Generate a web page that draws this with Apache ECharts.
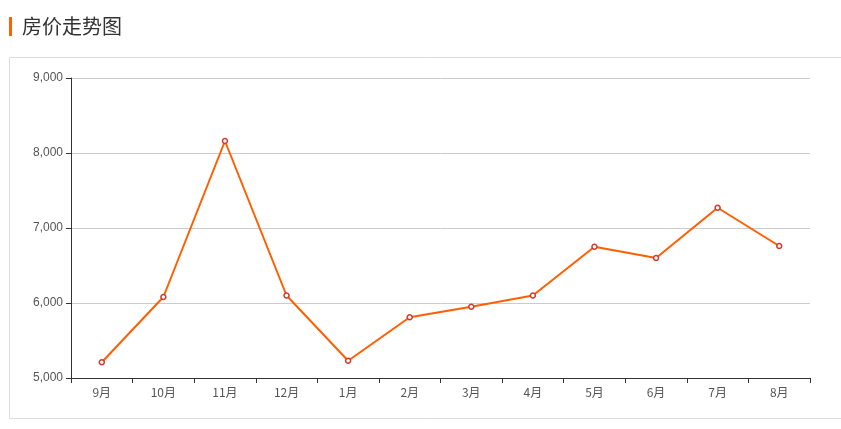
<!DOCTYPE html>
<html><head><meta charset="utf-8">
<script src="https://cdn.jsdelivr.net/npm/echarts@6/dist/echarts.min.js"></script>
<style>html,body{margin:0;padding:0;background:#fff}#c{width:841px;height:429px}</style>
</head><body><div id="c"></div>
<script>
const titleText = '房价走势图';
const months = ['9月','10月','11月','12月','1月','2月','3月','4月','5月','6月','7月','8月'];
const prices = [5210, 6080, 8160, 6100, 5230, 5810, 5950, 6100, 6750, 6600, 7270, 6760];
const yTicks = { min: 5000, max: 9000, interval: 1000 };

const chart = echarts.init(document.getElementById('c'));
chart.setOption({
  animation: false,
  graphic: [
    { type: 'rect', shape: { x: 9, y: 17, width: 3, height: 19 }, style: { fill: '#ff6000' } },
    { type: 'text', left: 22, top: 16, style: { text: titleText, fontSize: 20, fill: '#333', fontFamily: '"Noto Sans CJK SC", sans-serif' } },
    { type: 'rect', shape: { x: 9.5, y: 57.5, width: 840, height: 361 }, style: { fill: 'none', stroke: '#ddd', lineWidth: 1 }, z: -1 }
  ],
  grid: { left: 71, right: 31, top: 78, bottom: 51 },
  xAxis: {
    type: 'category', data: months, boundaryGap: true,
    axisLine: { lineStyle: { color: '#333' } },
    axisTick: { show: true, lineStyle: { color: '#333' } },
    axisLabel: { color: '#555', fontSize: 12, margin: 8, fontFamily: '"Noto Sans CJK SC", sans-serif' }
  },
  yAxis: {
    type: 'value', min: yTicks.min, max: yTicks.max, interval: yTicks.interval,
    axisLine: { show: true, lineStyle: { color: '#333' } },
    axisTick: { show: true, lineStyle: { color: '#333' } },
    axisLabel: { color: '#555', fontSize: 12, margin: 8, formatter: v => v.toLocaleString('en-US') },
    splitLine: { lineStyle: { color: '#ccc' } }
  },
  series: [{
    type: 'line', data: prices,
    symbol: 'circle', symbolSize: 5, showAllSymbol: true,
    lineStyle: { color: '#ff5f00', width: 2 },
    itemStyle: { color: '#fff', borderColor: '#d33a2c', borderWidth: 1.5 }
  }]
});
</script></body></html>
